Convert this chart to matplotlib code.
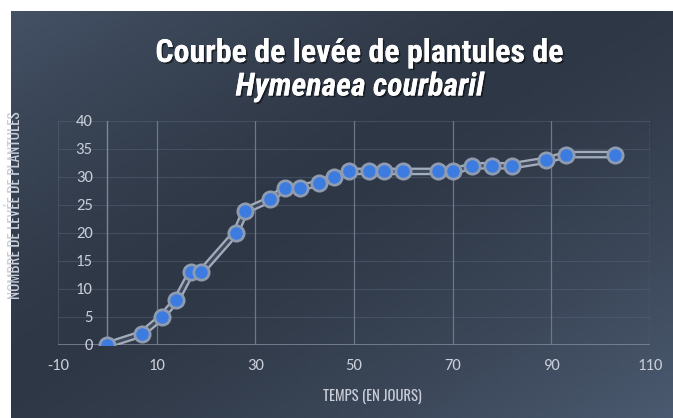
import numpy as np
import matplotlib
matplotlib.use("Agg")
import matplotlib.pyplot as plt
import matplotlib.patheffects as pe

# data
days = [0, 7, 11, 14, 17, 19, 26, 28, 33, 36, 39, 43, 46, 49,
        53, 56, 60, 67, 70, 74, 78, 82, 89, 93, 103]
seedlings = [0, 2, 5, 8, 13, 13, 20, 24, 26, 28, 28, 29, 30, 31,
             31, 31, 31, 31, 31, 32, 32, 32, 33, 34, 34]
x_ticks = [-10, 10, 30, 50, 70, 90, 110]
y_ticks = [0, 5, 10, 15, 20, 25, 30, 35, 40]

W, H = 673, 418
fig = plt.figure(figsize=(W / 100, H / 100), dpi=100, facecolor="white")

# dark gradient background (starts ~11px in from left/top)
bg = fig.add_axes([11 / W, 0, (W - 11) / W, (H - 11) / H], zorder=-5)
gx, gy = np.meshgrid(np.linspace(0, 1, 200), np.linspace(0, 1, 120))
d = (gx + gy) / 2.0          # 0 top-left, 1 bottom-right
v = np.abs(d - 0.45) / 0.55
light = np.array([0x4b, 0x5a, 0x70]) / 255
dark = np.array([0x2e, 0x37, 0x45]) / 255
img = dark + (light - dark) * np.clip(v, 0, 1)[..., None] ** 1.4
bg.imshow(np.clip(img, 0, 1), aspect="auto", extent=[0, 1, 0, 1], origin="upper")
bg.axis("off")

ax = fig.add_axes([58 / W, 1 - 345 / H, (650 - 58) / W, (345 - 121) / H])
ax.set_facecolor("none")
ax.set_xlim(-10, 110)
ax.set_ylim(0, 40)

for s in ax.spines.values():
    s.set_visible(False)

# grid
for y in y_ticks[1:]:
    ax.axhline(y, color="#56627a", lw=0.8, alpha=0.5, zorder=0)
for x in x_ticks[1:]:
    ax.axvline(x, color="#6c778a", lw=0.9, zorder=0)
ax.axvline(-10, color="#56627a", lw=0.8, alpha=0.5, zorder=0)
ax.axvline(0, color="#7c8698", lw=1.0, zorder=1)
ax.axhline(0, color="#7c8698", lw=1.2, zorder=1)

# line with double-stroke look
ax.plot(days, seedlings, color="#a3acbb", lw=5.5, solid_capstyle="round", zorder=3)
ax.plot(days, seedlings, color="#3f4a5d", lw=2.2, zorder=4)
ax.plot(days, seedlings, ls="none", marker="o", ms=11, mfc="#3c7be0",
        mec="#8e9bb0", mew=2.0, zorder=5)

tick_font = ["Carlito", "Lato", "DejaVu Sans"]
ax.set_xticks(x_ticks)
ax.set_xticklabels([str(t) for t in x_ticks], family=tick_font, fontsize=12, color="#c9ced8")
ax.set_yticks(y_ticks)
ax.set_yticklabels([str(t) for t in y_ticks], family=tick_font, fontsize=12, color="#c9ced8")
ax.tick_params(axis="x", length=0, pad=10)
ax.tick_params(axis="y", length=0, pad=-25)

narrow = ["Oswald", "Roboto Condensed", "Liberation Sans Narrow", "DejaVu Sans"]
fig.text(372 / W, 1 - 396 / H, "TEMPS (EN JOURS)", family=narrow, fontsize=10.5,
         weight="light", color="#c9ced8", ha="center", va="center")
fig.text(15 / W, 1 - 205 / H, "NOMBRE DE LEVÉE DE PLANTULES", family=narrow, fontsize=11,
         weight="light", color="#c9ced8", ha="center", va="center", rotation=90)

title_font = ["Roboto Condensed", "Oswald", "DejaVu Sans"]
shadow = [pe.withSimplePatchShadow(offset=(1.2, -1.2), shadow_rgbFace="black", alpha=0.5),
          pe.Normal()]
fig.text(360 / W, 1 - 53 / H, "Courbe de levée de plantules de", family=title_font,
         fontsize=23, weight="bold", color="white", ha="center", va="center",
         path_effects=shadow)
fig.text(360 / W, 1 - 87 / H, "Hymenaea courbaril", family=title_font,
         fontsize=23, weight="bold", style="italic", color="white", ha="center",
         va="center", path_effects=shadow)

fig.savefig("out.png", dpi=100, facecolor="white")
